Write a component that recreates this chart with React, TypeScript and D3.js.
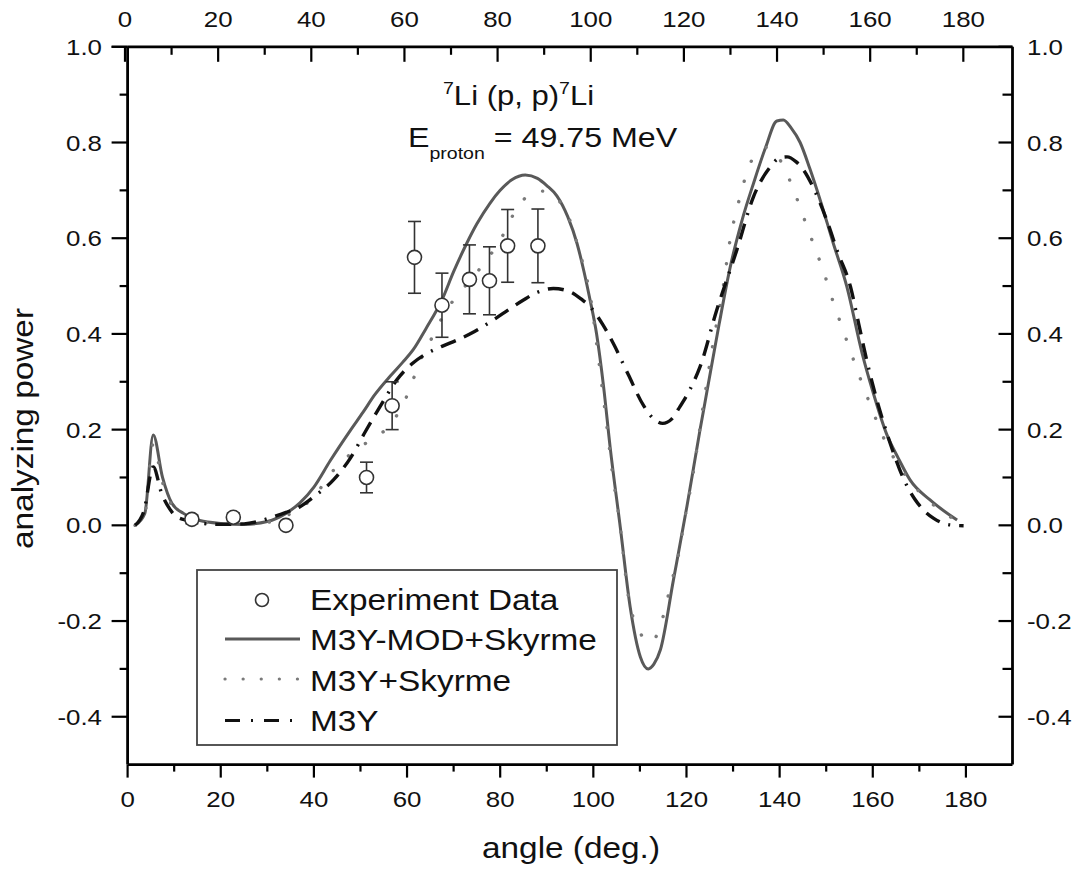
import React from "react";
import * as d3 from "d3";

// ---------- data ----------
const expAngle = [13.8, 22.7, 34.0, 51.3, 56.8, 61.6, 67.5, 73.4, 77.7, 81.6, 88.1];
const expValue = [0.0125, 0.017, 0.0, 0.1, 0.25, 0.56, 0.46, 0.514, 0.511, 0.584, 0.584];
const expError = [0.009, 0.009, 0, 0.032, 0.05, 0.075, 0.067, 0.072, 0.071, 0.076, 0.077];

// M3Y-MOD+Skyrme (solid)
const m3yModSkyrme: [number, number][] = [
  [1.6, 0], [3.7, 0.025], [5.5, 0.189], [7.5, 0.1], [9.5, 0.046], [12, 0.025], [15.5, 0.01],
  [20, 0.004], [25, 0.002], [30, 0.008], [34, 0.025], [37, 0.047], [40, 0.08], [43.5, 0.135],
  [47.8, 0.198], [50.6, 0.237], [53, 0.272], [56.4, 0.312], [59, 0.34], [61.4, 0.368], [64, 0.41],
  [67.5, 0.471], [70, 0.53], [72.8, 0.589], [75, 0.63], [77.8, 0.673], [80, 0.7], [82.5, 0.722],
  [85.4, 0.732], [88, 0.725], [90, 0.71], [92.2, 0.688], [94.5, 0.645], [96.5, 0.589], [98, 0.53],
  [99.3, 0.471], [100.7, 0.4], [102.2, 0.29], [103.6, 0.164], [105.8, -0.005], [107.9, -0.17],
  [110.1, -0.275], [111.8, -0.3], [113, -0.29], [114.4, -0.26], [117.2, -0.114], [120.1, 0.04],
  [122.9, 0.199], [124.4, 0.28], [127, 0.42], [129.4, 0.54], [132, 0.64], [134.4, 0.715],
  [137, 0.79], [139.4, 0.845], [140.8, 0.847], [142.5, 0.83], [144.4, 0.8], [146.5, 0.745],
  [148.7, 0.68], [151.5, 0.59], [154.4, 0.5], [157.7, 0.36], [160, 0.28], [163, 0.19],
  [165.5, 0.14], [168, 0.095], [172.3, 0.053], [178.1, 0.011],
];

// M3Y+Skyrme (dotted)
const m3ySkyrme: [number, number][] = [
  [1.6, 0], [3.7, 0.025], [5.5, 0.17], [7.5, 0.09], [9.5, 0.042], [12, 0.022], [15.5, 0.008],
  [20, 0.003], [25, 0.002], [30, 0.006], [34, 0.02], [37, 0.035], [40, 0.06], [44.2, 0.115],
  [48, 0.15], [52.1, 0.178], [56, 0.206], [59.9, 0.269], [61.4, 0.307], [63.5, 0.359],
  [65.7, 0.398], [67.8, 0.439], [71.8, 0.492], [75.7, 0.537], [80, 0.596], [83.6, 0.662],
  [87.9, 0.699], [90, 0.697], [92.5, 0.68], [95.7, 0.617], [96.8, 0.579], [98.5, 0.52],
  [99.7, 0.457], [100.7, 0.38], [102.5, 0.24], [104.3, 0.095], [105.4, 0.025], [107.9, -0.17],
  [109.3, -0.208], [110.7, -0.235], [112.2, -0.245], [113.5, -0.232], [115, -0.19],
  [116.9, -0.114], [117.9, -0.079], [119.7, 0.018], [121.2, 0.095], [123.6, 0.25],
  [125.7, 0.38], [127.9, 0.499], [129, 0.575], [131.9, 0.701], [133, 0.739], [135.8, 0.784],
  [137.5, 0.79], [140, 0.765], [142, 0.725], [143.7, 0.683], [145.1, 0.645], [147.6, 0.579],
  [149.1, 0.54], [151.6, 0.464], [153, 0.425], [155.9, 0.345], [157.3, 0.307], [160.2, 0.234],
  [161.6, 0.199], [164, 0.15], [167, 0.105], [170, 0.07], [174, 0.035], [178, 0.01],
];

// M3Y (dash-dot)
const m3y: [number, number][] = [
  [1.6, 0], [3.5, 0.03], [5.5, 0.122], [7.3, 0.067], [9, 0.035], [10.5, 0.018], [13, 0.01],
  [15.5, 0.005], [20, 0.002], [25, 0.003], [28, 0.008], [31.3, 0.018], [34, 0.027], [37, 0.039],
  [40, 0.06], [44.2, 0.095], [47.8, 0.14], [51, 0.195], [54.2, 0.248], [57.8, 0.304],
  [61, 0.337], [64.2, 0.359], [67.5, 0.374], [70.7, 0.387], [74.5, 0.405], [78.5, 0.429],
  [82, 0.452], [85, 0.471], [88, 0.487], [91.4, 0.495], [95, 0.488], [97.5, 0.472],
  [99.3, 0.457], [102, 0.42], [104.3, 0.38], [107.5, 0.315], [110.8, 0.25], [113, 0.222],
  [114.9, 0.213], [116.8, 0.222], [118.6, 0.248], [120.8, 0.285], [122.9, 0.331], [126.5, 0.45],
  [130.8, 0.575], [134.4, 0.687], [138, 0.749], [140, 0.768], [141.6, 0.77], [143.5, 0.76],
  [145.1, 0.743], [147.5, 0.7], [150.1, 0.638], [152.5, 0.57], [155.2, 0.499], [157, 0.42],
  [158.7, 0.345], [160.5, 0.275], [162.3, 0.215], [164.5, 0.15], [166.8, 0.093], [169, 0.055],
  [170.9, 0.032], [173, 0.015], [175.2, 0.004], [177.5, 0], [179.5, -0.001],
];

const xMajorTicks = [0, 20, 40, 60, 80, 100, 120, 140, 160, 180];
const xMinorTicks = [10, 30, 50, 70, 90, 110, 130, 150, 170];
const yMajorTicks = [-0.4, -0.2, 0.0, 0.2, 0.4, 0.6, 0.8, 1.0];
const yMinorTicks = [-0.3, -0.1, 0.1, 0.3, 0.5, 0.7, 0.9];

const legendLabels = ["Experiment Data", "M3Y-MOD+Skyrme", "M3Y+Skyrme", "M3Y"];

// ---------- layout ----------
const W = 1088;
const H = 871;
const L = 127.6, R = 1012.5, T = 46.8, B = 764.6;
const SX = 1.15; // horizontal text stretch of the original
const FONT = "'Liberation Sans', Arial, Helvetica, sans-serif";

const x = d3.scaleLinear().domain([0, 190]).range([L, R]);
const xTop = d3.scaleLinear().domain([0, 190]).range([L - 2.6, R - 2.6]);
const y = d3.scaleLinear().domain([-0.5, 1.0]).range([B, T]);

const line = d3
  .line<[number, number]>()
  .x((d) => x(d[0]))
  .y((d) => y(d[1]))
  .curve(d3.curveMonotoneX);

function SText(props: {
  x: number; y: number; size: number; anchor?: string; rotate?: number; children: React.ReactNode;
}) {
  const { x: tx, y: ty, size, anchor = "start", rotate, children } = props;
  return (
    <text
      transform={`translate(${tx},${ty})${rotate ? ` rotate(${rotate})` : ""} scale(${SX},1)`}
      fontSize={size}
      textAnchor={anchor}
      fontFamily={FONT}
      fill="#111"
    >
      {children}
    </text>
  );
}

const fmtY = (v: number) => (Math.abs(v) < 1e-9 ? "0.0" : d3.format(".1f")(v).replace("−", "-"));

export default function App() {
  const solidColor = "#595959";
  const dotColor = "#7a7a7a";
  const dashColor = "#111";
  const lx0 = 225, lx1 = 300;
  return (
    <svg
      width={W}
      height={H}
      viewBox={`0 0 ${W} ${H}`}
      style={{ position: "absolute", left: 0, top: 0, background: "#fff" }}
    >
      <rect x={0} y={0} width={W} height={H} fill="#fff" />

      {/* curves */}
      <path d={line(m3yModSkyrme) || ""} fill="none" stroke={solidColor} strokeWidth={3} strokeLinejoin="round" />
      <path
        d={line(m3ySkyrme) || ""}
        fill="none"
        stroke={dotColor}
        strokeWidth={3.4}
        strokeLinecap="round"
        strokeDasharray="0.1,21"
      />
      <path
        d={line(m3y) || ""}
        fill="none"
        stroke={dashColor}
        strokeWidth={3.4}
        strokeDasharray="16,9,2,9,16,9"
      />

      {/* experimental data */}
      {expAngle.map((a, i) => {
        const cx = x(a);
        const cy = y(expValue[i]);
        const e = expError[i];
        const y0 = y(expValue[i] - e);
        const y1 = y(expValue[i] + e);
        return (
          <g key={"e" + i} stroke="#333" strokeWidth={1.6}>
            {e > 0 && (
              <>
                <line x1={cx} x2={cx} y1={y0} y2={y1} />
                <line x1={cx - 6.5} x2={cx + 6.5} y1={y0} y2={y0} />
                <line x1={cx - 6.5} x2={cx + 6.5} y1={y1} y2={y1} />
              </>
            )}
            <circle cx={cx} cy={cy} r={7} fill="#fff" />
          </g>
        );
      })}

      {/* frame */}
      <g stroke="#000" strokeWidth={2.8} fill="none">
        <line x1={L} x2={R} y1={B} y2={B} />
        <line x1={L} x2={R} y1={T} y2={T} />
        <line x1={L} x2={L} y1={T} y2={B} />
        <line x1={R} x2={R} y1={T} y2={B} />
      </g>

      {/* ticks */}
      <g stroke="#000" strokeWidth={2.2}>
        {xMajorTicks.map((t) => (
          <line key={"bM" + t} x1={x(t)} x2={x(t)} y1={B} y2={B + 13} />
        ))}
        {xMinorTicks.map((t) => (
          <line key={"bm" + t} x1={x(t)} x2={x(t)} y1={B} y2={B + 7} />
        ))}
        {xMajorTicks.map((t) => (
          <line key={"tM" + t} x1={xTop(t)} x2={xTop(t)} y1={T} y2={T + 15} />
        ))}
        {xMinorTicks.map((t) => (
          <line key={"tm" + t} x1={xTop(t)} x2={xTop(t)} y1={T} y2={T + 8} />
        ))}
        {yMajorTicks.map((t) => (
          <line key={"lM" + t} x1={L - 16} x2={L} y1={y(t)} y2={y(t)} />
        ))}
        {yMinorTicks.map((t) => (
          <line key={"lm" + t} x1={L - 8} x2={L} y1={y(t)} y2={y(t)} />
        ))}
        <line x1={L - 16} x2={L} y1={T} y2={T} />
        {yMajorTicks.map((t) => (
          <line key={"rM" + t} x1={R - 14} x2={R} y1={y(t)} y2={y(t)} />
        ))}
        {yMinorTicks.map((t) => (
          <line key={"rm" + t} x1={R - 10} x2={R} y1={y(t)} y2={y(t)} />
        ))}
      </g>

      {/* tick labels */}
      {xMajorTicks.map((t) => (
        <SText key={"bl" + t} x={x(t)} y={807} size={22.5} anchor="middle">
          {String(t)}
        </SText>
      ))}
      {xMajorTicks.map((t) => (
        <SText key={"tl" + t} x={xTop(t)} y={27} size={22.5} anchor="middle">
          {String(t)}
        </SText>
      ))}
      {yMajorTicks.map((t) => (
        <SText key={"ll" + t} x={102} y={y(t) + 8} size={22.5} anchor="end">
          {fmtY(t)}
        </SText>
      ))}
      {yMajorTicks.map((t) => (
        <SText key={"rl" + t} x={1027} y={y(t) + 8} size={22.5} anchor="start">
          {fmtY(t)}
        </SText>
      ))}

      {/* axis titles */}
      <SText x={571} y={858} size={29} anchor="middle">angle (deg.)</SText>
      <SText x={33} y={428.5} size={29} anchor="middle" rotate={-90}>analyzing power</SText>

      {/* annotation */}
      <text transform={`translate(443,105) scale(${SX},1)`} fontFamily={FONT} fill="#111">
        <tspan fontSize={17} dy={-11}>7</tspan>
        <tspan fontSize={27} dy={11}>Li (p, p)</tspan>
        <tspan fontSize={17} dy={-11}>7</tspan>
        <tspan fontSize={27} dy={11}>Li</tspan>
      </text>
      <text transform={`translate(408,147) scale(${SX},1)`} fontFamily={FONT} fill="#111">
        <tspan fontSize={28}>E</tspan>
        <tspan fontSize={17} dy={12}>proton</tspan>
        <tspan fontSize={28} dy={-12}>{" = 49.75 MeV"}</tspan>
      </text>

      {/* legend */}
      <rect x={197} y={570} width={420} height={175} fill="#fff" stroke="#444" strokeWidth={1.8} />
      <circle cx={262} cy={600} r={6.5} fill="#fff" stroke="#333" strokeWidth={1.6} />
      <line x1={lx0} x2={lx1} y1={639} y2={639} stroke={solidColor} strokeWidth={3} />
      <line
        x1={lx0}
        x2={lx1}
        y1={679}
        y2={679}
        stroke={dotColor}
        strokeWidth={3.2}
        strokeLinecap="round"
        strokeDasharray="0.1,18"
      />
      <line x1={lx0} x2={lx1} y1={720.5} y2={720.5} stroke={dashColor} strokeWidth={3} strokeDasharray="15,11,2,11" />
      {legendLabels.map((lab, i) => (
        <SText key={lab} x={310} y={610 + i * 40.3} size={29}>
          {lab}
        </SText>
      ))}
    </svg>
  );
}
